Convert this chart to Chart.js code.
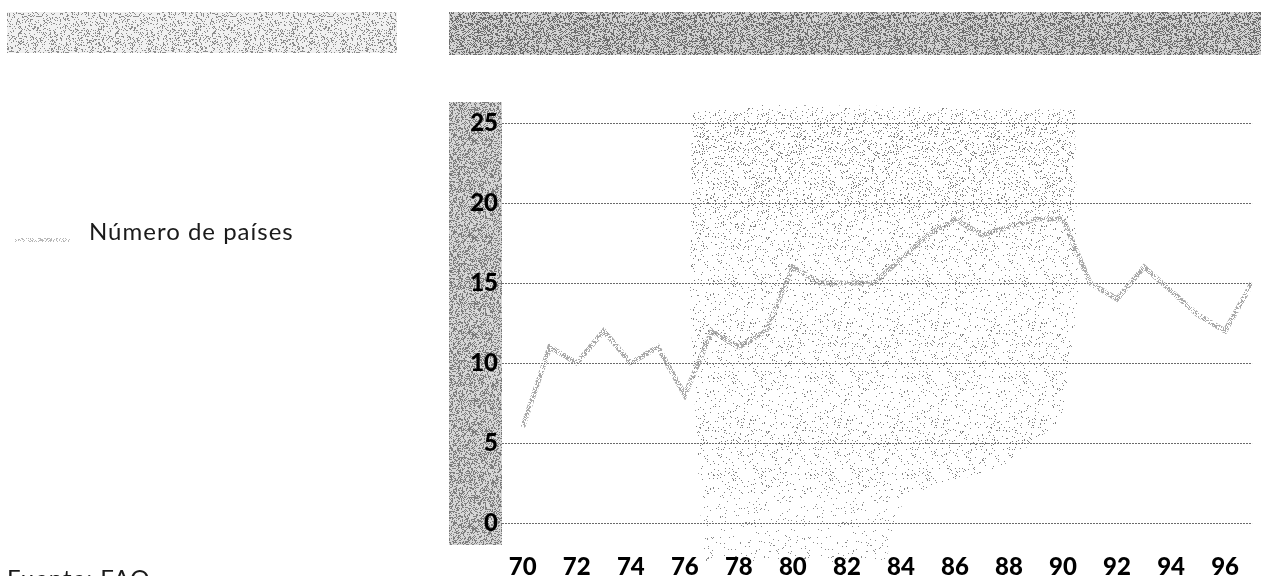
<!DOCTYPE html>
<html>
<head>
<meta charset="utf-8">
<script src="https://cdn.jsdelivr.net/npm/chart.js@4.4.1/dist/chart.umd.min.js"></script>
<style>
  html, body { margin: 0; padding: 0; background: #fff; }
  #wrap { position: relative; width: 1261px; height: 576px; overflow: hidden; }
  #c { position: absolute; left: 0; top: 0; }
  .txt {
    position: absolute;
    font-family: 'Lato', 'Open Sans', sans-serif;
    font-size: 24px;
    line-height: 24px;
    letter-spacing: 1px;
    color: #1a1a1a;
    white-space: nowrap;
  }
</style>
</head>
<body>
<div id="wrap">
  <canvas id="c" width="1261" height="576"></canvas>
  <div class="txt" id="legend" style="left:89px; top:219px;"></div>
  <div class="txt" id="source" style="left:7px; top:566px;"></div>
</div>
<script>
// ---- data ----
const seriesName = 'Número de países';
const sourceNote = 'Fuente: FAO';
const years = [1970, 1971, 1972, 1973, 1974, 1975, 1976, 1977, 1978, 1979,
               1980, 1981, 1982, 1983, 1984, 1985, 1986, 1987, 1988, 1989,
               1990, 1991, 1992, 1993, 1994, 1995, 1996, 1997];
const countries = [6, 11, 10, 12, 10, 11, 8, 12, 11, 12,
                   16, 15, 15, 15, 16.5, 18, 19, 18, 18.5, 19,
                   19, 15, 14, 16, 14.5, 13, 12, 15];
const xTickYears = [1970, 1972, 1974, 1976, 1978, 1980, 1982, 1984,
                    1986, 1988, 1990, 1992, 1994, 1996];
const yTicks = [0, 5, 10, 15, 20, 25];

document.getElementById('legend').textContent = seriesName;
document.getElementById('source').textContent = sourceNote;

const canvas = document.getElementById('c');
const ctx = canvas.getContext('2d');

// deterministic pixel hash used for the halftone textures
function hash(x, y, s) {
  let h = (Math.imul(x, 374761393) + Math.imul(y, 668265263) + Math.imul(s, 982451653)) | 0;
  h = Math.imul(h ^ (h >>> 13), 1274126177);
  h = h ^ (h >>> 16);
  return (h >>> 0) / 4294967295;
}

// halftone dot texture as a repeating canvas pattern
function stipple(density, rgb, seed) {
  const n = 97;
  const cv = document.createElement('canvas');
  cv.width = n; cv.height = n;
  const g = cv.getContext('2d');
  const img = g.createImageData(n, n);
  for (let y = 0; y < n; y++) {
    for (let x = 0; x < n; x++) {
      if (hash(x, y, seed) < density) {
        const i = (y * n + x) * 4;
        img.data[i] = rgb[0]; img.data[i + 1] = rgb[1]; img.data[i + 2] = rgb[2];
        img.data[i + 3] = 255;
      }
    }
  }
  g.putImageData(img, 0, 0);
  return ctx.createPattern(cv, 'repeat');
}

const lineTexture   = stipple(0.50, [170, 170, 170], 3);
const swatchTexture = stipple(0.35, [185, 185, 185], 5);
const bannerLight   = stipple(0.22, [140, 140, 140], 7);
const bannerDark    = stipple(0.40, [110, 110, 110], 11);
const columnTexture = stipple(0.38, [125, 125, 125], 13);
const cloudTexture  = stipple(0.055, [130, 130, 130], 17);
const cloudDense    = stipple(0.045, [125, 125, 125], 19);
const cloudSparse   = stipple(0.03, [140, 140, 140], 23);

// banners, shaded axis column, halftone cloud and legend swatch
const backdrop = {
  id: 'backdrop',
  beforeDraw(chart) {
    const c = chart.ctx;
    const area = chart.chartArea;
    c.save();
    // left header strip
    c.fillStyle = '#f1f1f1';
    c.fillRect(7, 12, 390, 41);
    c.fillStyle = bannerLight;
    c.fillRect(7, 12, 390, 41);
    // right header strip
    c.fillStyle = '#d2d2d2';
    c.fillRect(449, 12, chart.width - 449, 43);
    c.fillStyle = bannerDark;
    c.fillRect(449, 12, chart.width - 449, 43);
    // shaded column behind the y labels
    const colTop = area.top - 21, colBottom = area.bottom + 22;
    c.fillStyle = '#d6d6d6';
    c.fillRect(449, colTop, area.left - 449, colBottom - colTop);
    c.fillStyle = columnTexture;
    c.fillRect(449, colTop, area.left - 449, colBottom - colTop);
    // halftone cloud inside the plot
    c.beginPath();
    c.moveTo(692, 112); c.lineTo(760, 105); c.lineTo(900, 106); c.lineTo(1075, 110);
    c.lineTo(1078, 300); c.lineTo(1062, 420); c.lineTo(1000, 468); c.lineTo(905, 495);
    c.lineTo(700, 495); c.lineTo(698, 470); c.lineTo(690, 300);
    c.closePath();
    c.fillStyle = cloudTexture;
    c.fill();
    c.beginPath();
    c.moveTo(692, 112); c.lineTo(1075, 110); c.lineTo(1072, 215); c.lineTo(692, 230);
    c.closePath();
    c.fillStyle = cloudDense;
    c.fill();
    c.beginPath();
    c.moveTo(700, 495); c.lineTo(905, 495); c.lineTo(885, 562); c.lineTo(702, 562);
    c.closePath();
    c.fillStyle = cloudSparse;
    c.fill();
    // legend swatch
    c.fillStyle = swatchTexture;
    c.fillRect(15, 238, 55, 4);
    c.restore();
  }
};

const tickFont = { family: "'Lato', 'DejaVu Sans', sans-serif", size: 24, weight: '900' };

new Chart(canvas, {
  type: 'line',
  data: {
    datasets: [{
      label: seriesName,
      data: years.map((yr, i) => ({ x: yr, y: countries[i] })),
      borderColor: lineTexture,
      borderWidth: 5,
      pointRadius: 0,
      tension: 0,
      fill: false
    }]
  },
  options: {
    responsive: false,
    animation: false,
    devicePixelRatio: 1,
    layout: { padding: { left: 450, top: 123, right: 0, bottom: 0 } },
    plugins: { legend: { display: false }, tooltip: { enabled: false } },
    scales: {
      x: {
        type: 'linear',
        min: 1969.232,
        max: 1997,
        afterBuildTicks: (s) => { s.ticks = xTickYears.map(v => ({ value: v })); },
        afterFit: (s) => { s.height = 53; },
        ticks: {
          callback: (v) => String(v).slice(2),
          font: tickFont,
          color: '#000',
          padding: 22,
          maxRotation: 0,
          autoSkip: false
        },
        grid: { display: false },
        border: { display: false }
      },
      y: {
        min: 0,
        max: 25,
        afterBuildTicks: (s) => { s.ticks = yTicks.map(v => ({ value: v })); },
        afterFit: (s) => { s.width = 52; },
        ticks: { font: tickFont, color: '#000', padding: 4 },
        grid: { color: 'rgba(70,70,70,0.8)', lineWidth: 1, drawTicks: false },
        border: { display: false, dash: [2, 1] }
      }
    }
  },
  plugins: [backdrop]
});
</script>
</body>
</html>
